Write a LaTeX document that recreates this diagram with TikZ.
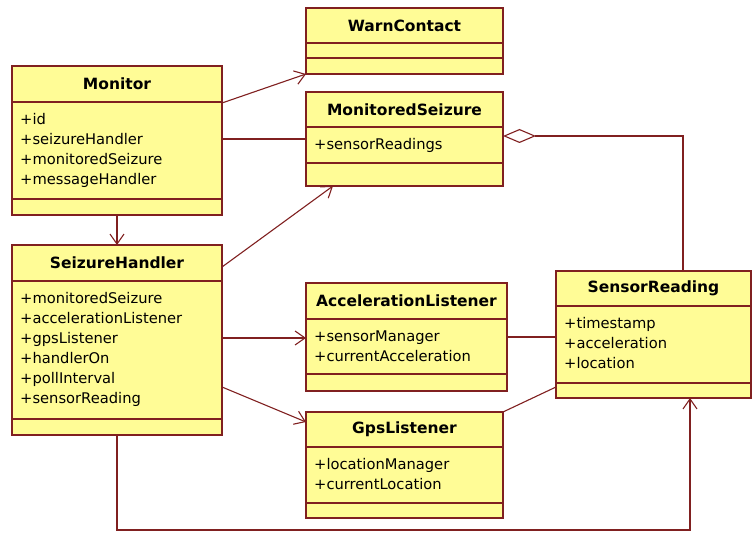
\documentclass[tikz,border=0pt]{standalone}
\usepackage{fontspec}
\setmainfont{DejaVu Sans}
\usetikzlibrary{arrows.meta,calc}
\definecolor{umlfill}{RGB}{255,252,150}
\definecolor{umlline}{RGB}{128,32,32}
\tikzset{
  classbox/.style={draw=umlline, fill=umlfill, line width=1.3pt, inner sep=0pt, outer sep=0pt, anchor=north west},
  sepline/.style={draw=umlline, line width=1.3pt},
  classtitle/.style={font=\fontsize{15.5}{18}\selectfont\bfseries, inner sep=0pt},
  attr/.style={font=\fontsize{14.7}{17}\selectfont, inner sep=0pt, anchor=base west},
  link/.style={draw=umlline, line width=1.1pt},
  nav/.style={link, -{Straight Barb[length=10pt, width=14pt, line width=1.1pt]}},
  agg/.style={link, -{Diamond[open, length=33pt, width=14pt, line width=1.1pt]}},
}
% \umlclass{name}{left}{top}{right}{title bottom}{attribute bottom}{bottom}{title}{attributes}
\newcommand{\umlclass}[9]{%
  \node[classbox, minimum width={(#4-#2)*1pt}, minimum height={(#7-#3)*1pt}] (#1) at (#2,#3) {};
  \draw[sepline] (#2,#5) -- (#4,#5);
  \draw[sepline] (#2,#6) -- (#4,#6);
  \node[classtitle] (#1-title) at ({(#2+#4)/2},{(#3+#5)/2}) {#8};
  \if\relax\detokenize{#9}\relax\else
    \foreach \a [count=\i] in {#9} {
      \node[attr] (#1-attr\i) at (#2+8,#5+22.5+20*\i-20) {\a};
    }
  \fi
}
\begin{document}
\begin{tikzpicture}[x=1pt, y=-1pt]
  \fill[white] (0,0) rectangle (753,534);
  \useasboundingbox (0,0) rectangle (753,534);

  % classes
  \umlclass{mon}{12}{66}{222}{102}{199}{215}{Monitor}
    {+id, +seizureHandler, +monitoredSeizure, +messageHandler}
  \umlclass{sh}{12}{245}{222}{281}{419}{435}{SeizureHandler}
    {+monitoredSeizure, +accelerationListener, +gpsListener, +handlerOn, +pollInterval, +sensorReading}
  \umlclass{warn}{306}{8}{503}{43}{58}{74}{WarnContact}{}
  \umlclass{ms}{306}{92}{503}{127}{163}{186}{MonitoredSeizure}{+sensorReadings}
  \umlclass{al}{306}{283}{507}{319}{374}{391}{AccelerationListener}
    {+sensorManager, +currentAcceleration}
  \umlclass{gps}{306}{412}{503}{447}{503}{518}{GpsListener}
    {+locationManager, +currentLocation}
  \umlclass{sr}{556}{271}{751}{306}{383}{398}{SensorReading}
    {+timestamp, +acceleration, +location}

  % associations
  \draw[nav] ($(mon.north east)+(0,37)$) -- (warn.south west);
  \coordinate (mlink) at ($(mon.north east)+(0,73)$);
  \draw[link] (mlink) -- (mlink -| ms.west);
  \draw[nav] (mon.south) -- (sh.north);
  \draw[nav] ($(sh.north east)+(0,22)$) -- ($(ms.south west)+(27,0)$);
  \coordinate (alink) at ($(sh.north east)+(0,93)$);
  \draw[nav] (alink) -- (alink -| al.west);
  \draw[nav] ($(sh.north east)+(0,142)$) -- ($(gps.north west)+(0,10)$);
  \draw[link] (al.east) -- (al.east -| sr.west);
  \draw[link] (gps.north east) -- ($(sr.south west)+(0,-11)$);
  \coordinate (dmd) at ($(ms.north east)+(0,44)$);
  \draw[agg] ($(sr.north west)+(127,0)$) |- (dmd);
  \draw[nav] (sh.south) -- ++(0,95) -| ($(sr.south west)+(134,0)$);
\end{tikzpicture}
\end{document}
